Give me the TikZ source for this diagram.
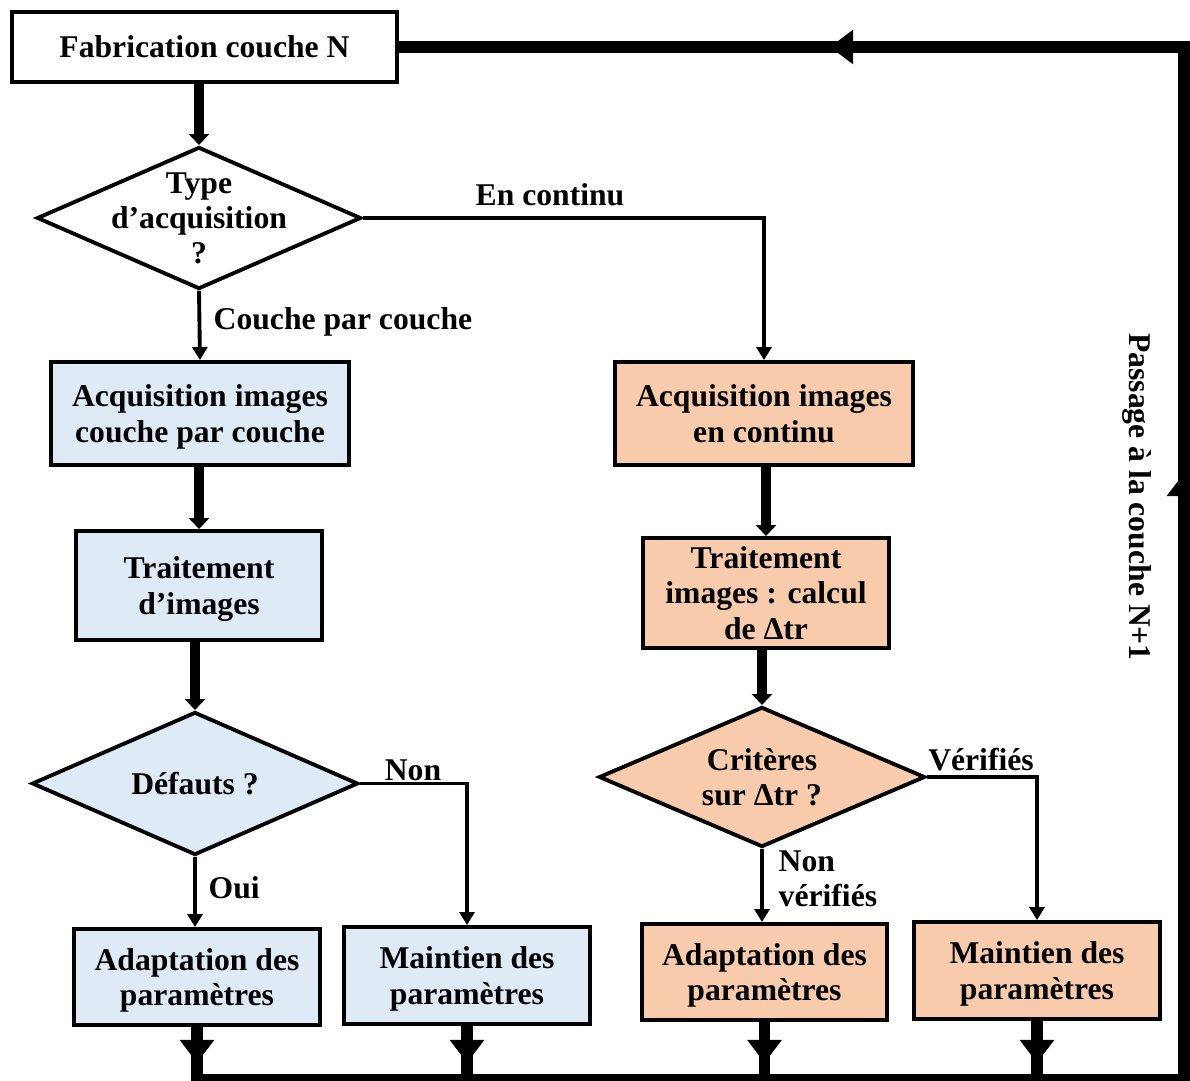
\documentclass[tikz,border=0pt]{standalone}
\usepackage{fontspec}
\setmainfont{Liberation Serif}
\usetikzlibrary{shapes.geometric, arrows.meta, positioning, calc}
\definecolor{bleuclair}{HTML}{DEEBF7}
\definecolor{peche}{HTML}{F8CBAD}

\begin{document}
\begin{tikzpicture}[x=0.01cm, y=-0.01cm,
		every node/.style={font=\fontsize{9}{10}\selectfont\bfseries},
		boite/.style={draw, line width=1.1pt, inner sep=0pt, align=center, text depth=-0.5pt},
		losange/.style={draw, diamond, line width=1.1pt, inner sep=0pt},
		texlos/.style={align=center, text depth=-0.6pt},
		fin/.style={line width=1.1pt, -{Triangle[width=0.15cm, length=0.13cm]}},
		epais/.style={line width=2.8pt, -{Triangle[width=0.2cm, length=0.11cm]}},
		bus/.style={line width=3.2pt, line join=miter},
		bustip/.style={bus, -{Triangle[width=0.33cm, length=0.23cm]}},
		etiq/.style={inner sep=0pt}]
		% Viewing box (the feedback loop runs along its edges)
		\useasboundingbox (0,0) rectangle (1190,1081);
		\clip (0,0) rectangle (1190,1081);
		
		% 1. Start of the layer
		\node[boite, fill=white, minimum width=3.85cm, minimum height=0.70cm] (fab) at (204.5,47) {Fabrication couche N};
		\node[losange, fill=white, minimum width=3.24cm, minimum height=1.42cm,
			label={[texlos]center:Type\\d’acquisition\\?}] (type) at (199,218) {};
		
		% 2. Layer by layer branch
		\node[boite, fill=bleuclair, minimum width=2.98cm, minimum height=1.03cm] (acqL) at (200,413.5) {Acquisition images\\couche par couche};
		\node[boite, fill=bleuclair, minimum width=2.46cm, minimum height=1.09cm] (trtL) at (199,585.5) {Traitement\\d’images};
		\node[losange, fill=bleuclair, minimum width=3.26cm, minimum height=1.43cm,
			label={[texlos]center:Défauts ?}] (defauts) at (195,783.5) {};
		\node[boite, fill=bleuclair, minimum width=2.46cm, minimum height=0.96cm] (adaptL) at (197,977) {Adaptation des\\paramètres};
		\node[boite, fill=bleuclair, minimum width=2.46cm, minimum height=0.97cm] (maintL) at (467,975.5) {Maintien des\\paramètres};
		
		% 3. Continuous branch
		\node[boite, fill=peche, minimum width=2.98cm, minimum height=1.03cm] (acqR) at (764,413.5) {Acquisition images\\en continu};
		\node[boite, fill=peche, minimum width=2.46cm, minimum height=1.10cm] (trtR) at (766,593) {Traitement\\images : calcul\\de Δtr};
		\node[losange, fill=peche, minimum width=3.26cm, minimum height=1.40cm,
			label={[texlos]center:Critères\\sur Δtr ?}] (crit) at (762,777) {};
		\node[boite, fill=peche, minimum width=2.45cm, minimum height=0.96cm] (adaptR) at (764.5,972) {Adaptation des\\paramètres};
		\node[boite, fill=peche, minimum width=2.46cm, minimum height=0.97cm] (maintR) at (1037,970.5) {Maintien des\\paramètres};
		
		% 4. Connectors
		\draw[epais] (fab.south -| type.north) -- (type.north);
		\draw[fin] (type.south) -- (acqL.north);
		\draw[fin] (type.east) -| (acqR.north);
		\draw[epais] (acqL.south -| trtL.north) -- (trtL.north);
		\draw[epais] (trtL.south -| defauts.north) -- (defauts.north);
		\draw[fin] (defauts.south) -- (adaptL.north -| defauts.south);
		\draw[fin] (defauts.east) -| (maintL.north);
		\draw[epais] (acqR.south -| trtR.north) -- (trtR.north);
		\draw[epais] (trtR.south -| crit.north) -- (crit.north);
		\draw[fin] (crit.south) -- (adaptR.north -| crit.south);
		\draw[fin] (crit.east) -| (maintR.north);
		
		% Labels on the branches
		\node[etiq] (encontinu) at (550,195) {En continu};
		\node[etiq, anchor=west] (cpc) at (213,322) {Couche par couche};
		\node[etiq] (non) at (413,770) {Non};
		\node[etiq, anchor=west] (oui) at (208,888) {Oui};
		\node[etiq, anchor=west, align=left] (nonverif) at (778,879) {Non\\vérifiés};
		\node[etiq] (verif) at (981,760) {Vérifiés};
		
		% 5. Feedback loop to the next layer
		\coordinate (br) at (1184,1080);
		\coordinate (tr) at (1184,47);
		\coordinate (tipline) at (0,1063);
		\coordinate (toptip) at (830,47);
		\coordinate (righttip) at (1184,473);
		\draw[bus] (adaptL.south) |- (br) -- (tr) -- (fab.east);
		\foreach \b in {maintL, adaptR, maintR}
			\draw[bus] (\b.south) -- (\b.south |- br);
		\foreach \b in {adaptL, maintL, adaptR, maintR}
			\draw[bustip] (\b.south) -- (\b.south |- tipline);
		\draw[bustip] (br) -- (righttip);
		\draw[bustip] (tr) -- (toptip);
		\node[etiq, rotate=-90] (passage) at (1137,497) {Passage à la couche N+1};
		
	\end{tikzpicture}
\end{document}
